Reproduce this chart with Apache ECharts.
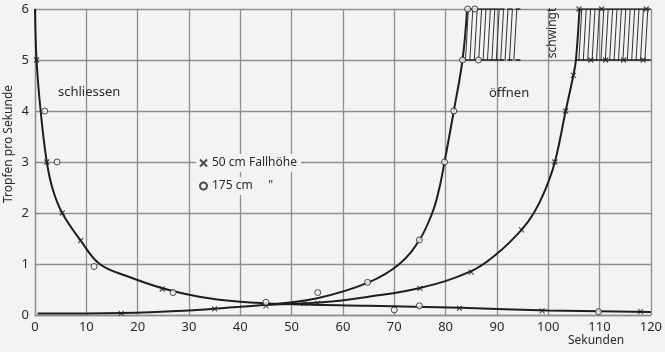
<!DOCTYPE html>
<html>
<head>
<meta charset="utf-8">
<script src="https://cdn.jsdelivr.net/npm/echarts@6/dist/echarts.min.js"></script>
<style>
  html, body { margin: 0; padding: 0; background: #f3f3f1; }
  #chart { width: 665px; height: 352px; }
</style>
</head>
<body>
<div id="chart"></div>
<script>
// Tropfen pro Sekunde beim Schliessen / Öffnen

const xTicks = [0, 10, 20, 30, 40, 50, 60, 70, 80, 90, 100, 110, 120];
const yTicks = [0, 1, 2, 3, 4, 5, 6];

// Kurve "schliessen" (fallend)
const schliessenKurve = [
  [0, 6], [0.3, 5], [1.1, 4], [2.3, 3], [3.5, 2.45], [5.3, 2], [8.9, 1.46],
  [12.6, 1.0], [18, 0.76], [25, 0.52], [32, 0.36], [40, 0.26], [50, 0.21],
  [65, 0.18], [83, 0.14], [100, 0.09], [120, 0.06]
];
// gemeinsamer Anfang der Öffnungskurven
const anfangKurve = [
  [0.5, 0.03], [17, 0.04], [30, 0.09], [40, 0.16], [45, 0.2]
];
// Öffnen, 175 cm Fallhöhe
const oeffnen175 = [
  [45, 0.2], [55, 0.33], [65, 0.64], [71, 1.0], [74.9, 1.47], [77.4, 2.0],
  [78.7, 2.45], [79.8, 3.0], [81.6, 4.0], [83.3, 5.0], [84.2, 6.0]
];
// Öffnen, 50 cm Fallhöhe
const oeffnen50 = [
  [45, 0.2], [56, 0.25], [65, 0.36], [75, 0.53], [85, 0.86], [90, 1.2],
  [94.8, 1.67], [97.2, 2.0], [99.4, 2.45], [101.3, 3.0], [103.4, 4.0], [104.9, 4.7],
  [105.4, 5.0], [106.1, 6.0]
];
// waagrechte Grenzen im Schwingbereich
const grenze175Voll = [[[83.3, 5], [90.5, 5]], [[84.2, 6], [90.5, 6]]];
const grenze175Strich = [[[90.5, 5], [94.6, 5]], [[90.5, 6], [94.6, 6]]];
const grenze50 = [[[105.4, 5], [120, 5]], [[106.1, 6], [120, 6]]];
// Schraffur: [x unten, x oben, x rechts] zwischen 5 und 6
const schraffur = [[83.3, 84.2, 94.6], [105.4, 106.1, 120]];

// Messpunkte
const kreuzPunkte = [
  [0.3, 5], [2.3, 3], [5.3, 2], [8.9, 1.46], [16.8, 0.03], [24.8, 0.51], [35, 0.12],
  [45, 0.18], [52.4, 0.23], [55.1, 0.23], [75, 0.52], [82.7, 0.13], [85, 0.84],
  [94.8, 1.67], [98.8, 0.08], [101.3, 3.0], [103.4, 4.0], [104.9, 4.7], [118, 0.065],
  [106, 6], [110.4, 6], [119.1, 6], [108.3, 5], [111.2, 5], [114.7, 5], [118.5, 5]
];
const kreisPunkte = [
  [1.9, 4], [4.3, 3], [11.5, 0.95], [26.9, 0.44], [45, 0.25], [55.1, 0.44], [64.8, 0.64],
  [70, 0.1], [74.9, 0.18], [74.9, 1.47], [79.8, 3.0], [81.6, 4.0], [83.3, 5.0],
  [86.4, 5.0], [84.3, 6.0], [85.7, 6.0], [109.8, 0.065]
];

const BG = '#f3f3f1';
const INK = '#1e1e1e';
const GRID = '#8e8e8e';
const FONT = '"Noto Sans", "DejaVu Sans", sans-serif';

const chart = echarts.init(document.getElementById('chart'), null, { renderer: 'canvas' });

function curve(data, extra) {
  return Object.assign({
    type: 'line', data: data, showSymbol: false, silent: true,
    smooth: 0.4,
    lineStyle: { color: INK, width: 2 }, z: 3
  }, extra || {});
}

const series = [
  curve(schliessenKurve),
  curve(anfangKurve),
  curve(oeffnen175),
  curve(oeffnen50)
];
grenze175Voll.concat(grenze50).forEach(seg => series.push(curve(seg, { smooth: false, lineStyle: { color: INK, width: 1.6 } })));
grenze175Strich.forEach(seg => series.push(curve(seg, { smooth: false, lineStyle: { color: INK, width: 1.6, type: [5, 3] } })));

series.push({
  type: 'custom', silent: true, z: 2,
  data: schraffur,
  renderItem: function (params, api) {
    const pb = api.coord([api.value(0), 5]);
    const pt = api.coord([api.value(1), 6]);
    const pr = api.coord([api.value(2), 5]);
    const slant = 2.9, step = 4.4;
    const children = [];
    for (let x = pb[0] + 3; x + slant <= pr[0] + 0.5; x += step) {
      children.push({
        type: 'line',
        shape: { x1: x, y1: pb[1], x2: x + slant, y2: pt[1] },
        style: { stroke: '#333', lineWidth: 1 }
      });
    }
    return { type: 'group', children: children };
  }
});

series.push({
  name: '50 cm Fallhöhe', type: 'scatter', data: kreuzPunkte, z: 5, silent: true,
  symbol: 'path://M0,0L10,10M0,10L10,0', symbolSize: 5,
  itemStyle: { color: INK, borderColor: INK, borderWidth: 1.1 }
});
series.push({
  name: '175 cm', type: 'scatter', data: kreisPunkte, z: 5, silent: true,
  symbol: 'circle', symbolSize: 6,
  itemStyle: { color: BG, borderColor: INK, borderWidth: 1 }
});

const legendBase = {
  orient: 'horizontal', itemWidth: 7, itemHeight: 7, padding: [3, 4, 3, 3],
  backgroundColor: BG, selectedMode: false,
  textStyle: { fontFamily: FONT, fontSize: 12, color: '#2a2a2a' }
};

chart.setOption({
  backgroundColor: BG,
  animation: false,
  grid: { left: 35, right: 10, top: 9, bottom: 37 },
  xAxis: {
    type: 'value', min: xTicks[0], max: xTicks[xTicks.length - 1], interval: 10,
    axisLine: { show: true, lineStyle: { color: GRID, width: 1.3 } },
    axisTick: { show: false },
    axisLabel: { color: '#2a2a2a', fontFamily: FONT, fontSize: 13, margin: 6 },
    splitLine: { show: true, lineStyle: { color: GRID, width: 1.3 } }
  },
  yAxis: {
    type: 'value', min: yTicks[0], max: yTicks[yTicks.length - 1], interval: 1,
    axisLine: { show: true, lineStyle: { color: GRID, width: 1.3 } },
    axisTick: { show: false },
    axisLabel: { color: '#2a2a2a', fontFamily: FONT, fontSize: 13, margin: 6 },
    splitLine: { show: true, lineStyle: { color: GRID, width: 1.3 } }
  },
  legend: [
    Object.assign({}, legendBase, { data: ['50 cm Fallhöhe'], left: 196, top: 154 }),
    Object.assign({}, legendBase, {
      data: ['175 cm'], left: 196, top: 177,
      formatter: function (name) { return name + '     "'; }
    })
  ],
  graphic: [
    { type: 'text', left: 58, top: 86, z: 10, silent: true,
      style: { text: 'schliessen', font: '13px ' + FONT, fill: '#2a2a2a' } },
    { type: 'text', left: 489, top: 87, z: 10, silent: true,
      style: { text: 'öffnen', font: '13px ' + FONT, fill: '#2a2a2a' } },
    { type: 'text', x: 553, y: 33, rotation: Math.PI / 2, z: 10, silent: true,
      style: { text: 'schwingt', font: '12px ' + FONT, fill: '#2a2a2a', align: 'center', verticalAlign: 'middle' } },
    { type: 'text', x: 596, y: 341, z: 10, silent: true,
      style: { text: 'Sekunden', font: '12px ' + FONT, fill: '#2a2a2a', align: 'center', verticalAlign: 'middle' } },
    { type: 'text', x: 9, y: 144, rotation: Math.PI / 2, z: 10, silent: true,
      style: { text: 'Tropfen pro Sekunde', font: '12px ' + FONT, fill: '#2a2a2a', align: 'center', verticalAlign: 'middle' } }
  ],
  series: series
});
</script>
</body>
</html>
